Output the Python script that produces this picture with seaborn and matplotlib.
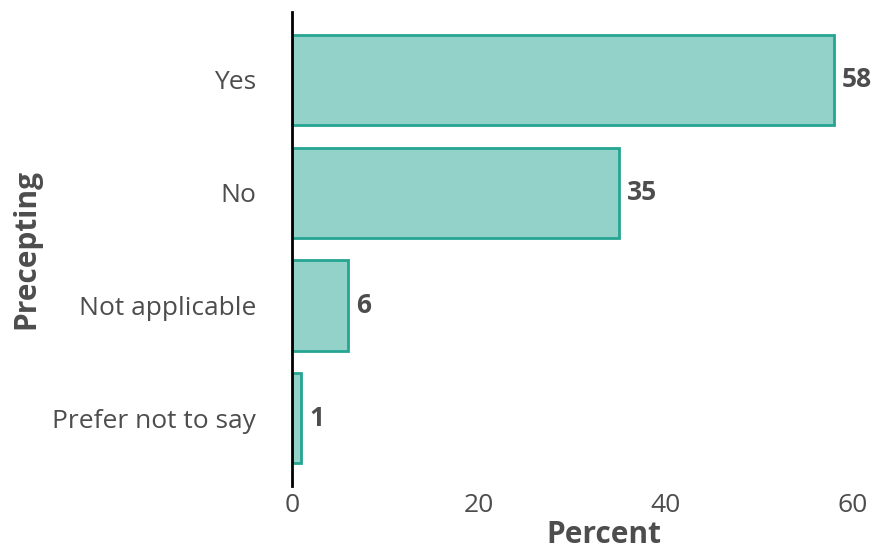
import pandas as pd
import matplotlib.pyplot as plt
import seaborn as sns

# data
categories = ["Yes", "No", "Not applicable", "Prefer not to say"]
percent = [58, 35, 6, 1]

df = pd.DataFrame({"Precepting": categories, "Percent": percent})

sns.set_style("white")
plt.rcParams["font.family"] = ["Open Sans", "DejaVu Sans"]

text_col = "#4d4d4d"

fig = plt.figure(figsize=(8.72, 5.51), dpi=100)
ax = fig.add_axes([0.335, 0.118, 0.643, 0.860])

sns.barplot(data=df, x="Percent", y="Precepting", order=categories,
            color="#93d2c8", edgecolor="#26a592", linewidth=2,
            width=0.8, saturation=1, ax=ax)

for i, v in enumerate(percent):
    ax.text(v + 0.8, i, str(v), va="center", ha="left", fontsize=19,
            fontweight="bold", color=text_col, clip_on=False)

ax.set_xlim(0, 60)
ax.set_ylim(3.6, -0.6)
ax.set_xticks([0, 20, 40, 60])
ax.tick_params(axis="both", length=0, labelsize=19, labelcolor=text_col)
ax.tick_params(axis="y", pad=26)
ax.tick_params(axis="x", pad=5)
ax.set_xlabel("Percent", fontsize=21.5, fontweight="bold", color=text_col)
ax.set_ylabel("Precepting", fontsize=21.5, fontweight="bold", color=text_col, labelpad=8)
ax.xaxis.set_label_coords(0.556, -0.072)

for s in ["top", "right", "bottom"]:
    ax.spines[s].set_visible(False)
ax.spines["left"].set_color("black")
ax.spines["left"].set_linewidth(2)

fig.savefig("out.png", dpi=100)
